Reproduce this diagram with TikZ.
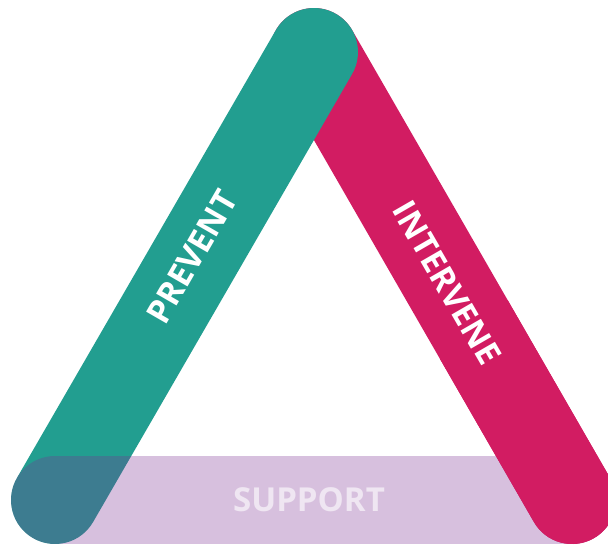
\documentclass[tikz,border=0pt]{standalone}
\usepackage{fontspec}
\setmainfont{Open Sans}
\definecolor{preventcol}{RGB}{34,158,144}
\definecolor{intervenecol}{RGB}{210,28,98}
\definecolor{supportcol}{RGB}{124,48,146}
\definecolor{supporttext}{RGB}{239,230,242}
\tikzset{
  bar/.style={line width=88pt,line cap=round},
  barlabel/.style={font=\bfseries\fontsize{33}{33}\selectfont,text=white,inner sep=0pt}
}
\begin{document}
\begin{tikzpicture}[x=1pt,y=-1pt]
      \useasboundingbox (0,0) rectangle (608,544);
      \coordinate (bl) at (55,500);
      \coordinate (apex) at (314,52);
      \coordinate (br) at (572,500);
      %barre
      \draw[bar,intervenecol] (apex) -- (br);
      \draw[bar,preventcol] (bl) -- (apex);
      \draw[bar,supportcol,opacity=0.3] (bl) -- (br);
      \begin{scope}
        \clip (440,300) rectangle (608,544);
        \draw[bar,intervenecol] (apex) -- (br);
      \end{scope}
      %testi
      \node[barlabel,rotate=60] (prevent) at (192,257) {PREVENT};
      \node[barlabel,rotate=-60] (intervene) at (447,283) {INTERVENE};
      \node[barlabel,text=supporttext] (support) at (309,500) {SUPPORT};
\end{tikzpicture}
\end{document}
